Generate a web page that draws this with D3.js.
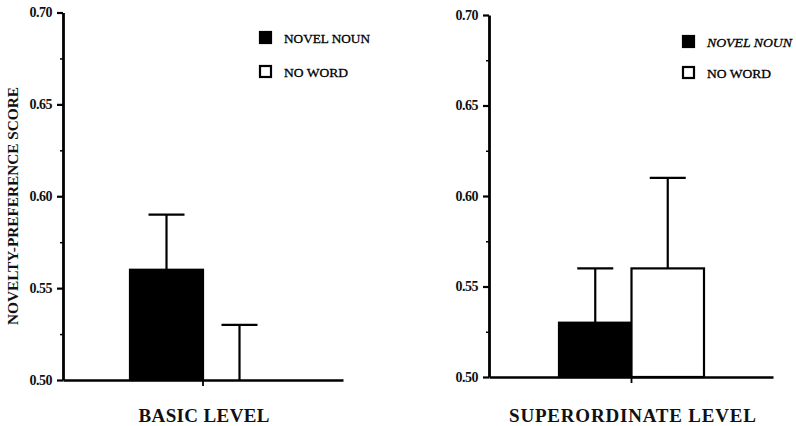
<!DOCTYPE html>
<html><head><meta charset="utf-8">
<script src="https://cdn.jsdelivr.net/npm/d3@7"></script>
<style>body{margin:0;background:#fff}svg{display:block}</style>
</head><body>
<svg id="chart" width="796" height="426"></svg>
<script>
// ---- data ----
const series = ["NOVEL NOUN", "NO WORD"];
const levels = ["BASIC LEVEL", "SUPERORDINATE LEVEL"];
const basicMeans = [0.56, 0.50];
const basicErrors = [0.03, 0.03];
const superMeans = [0.53, 0.56];
const superErrors = [0.03, 0.05];
const yTickValues = [0.50, 0.55, 0.60, 0.65, 0.70];
const yTickLabels = ["0.50", "0.55", "0.60", "0.65", "0.70"];
const yMinorTicks = [0.525, 0.575, 0.625, 0.675];
const yLabel = "NOVELTY-PREFERENCE SCORE";

const svg = d3.select("#chart");
const serif = "'Liberation Serif','Times New Roman',serif";

const panels = [
  {level: levels[0], means: basicMeans, errors: basicErrors, ax: 63, right: 343, top: 12.5, bottom: 380,
   barStart: 130, barEnd: 276, legX: 260, legY: [32, 66], legItalic: false, legLen: [86, 64], showYLabel: true, xLabLen: 131},
  {level: levels[1], means: superMeans, errors: superErrors, ax: 489, right: 773, top: 15, bottom: 377,
   barStart: 559, barEnd: 704, legX: 683, legY: [36, 67], legItalic: true, legLen: [85, 64], showYLabel: false, xLabLen: 247}
];

panels.forEach(p => {
  const g = svg.append("g");
  const y = d3.scaleLinear().domain([0.50, 0.70]).range([p.bottom, p.top]);
  const x = d3.scaleBand().domain(series).range([p.barStart, p.barEnd]).padding(0);

  // y axis
  const yAxis = d3.axisLeft(y).tickValues(yTickValues)
    .tickFormat((d, i) => yTickLabels[i]).tickSize(6).tickSizeOuter(0).tickPadding(5);
  const ya = g.append("g").attr("transform", `translate(${p.ax},0)`).call(yAxis);
  ya.select(".domain").attr("stroke", "#000").attr("stroke-width", 2.8);
  ya.selectAll(".tick line").attr("stroke", "#000").attr("stroke-width", 2.2);
  ya.selectAll(".tick text").attr("font-family", serif).attr("font-size", 14)
    .attr("font-weight", "bold").attr("letter-spacing", -0.5).attr("fill", "#111");
  // minor ticks
  const ym = d3.axisLeft(y).tickValues(yMinorTicks).tickSize(3).tickFormat("").tickSizeOuter(0);
  const yma = g.append("g").attr("transform", `translate(${p.ax},0)`).call(ym);
  yma.select(".domain").remove();
  yma.selectAll(".tick line").attr("stroke", "#000").attr("stroke-width", 1.5);

  // bars
  g.selectAll("rect.bar").data(series).enter().append("rect")
    .attr("class", "bar")
    .attr("x", d => x(d))
    .attr("width", x.bandwidth())
    .attr("y", (d, i) => y(p.means[i]))
    .attr("height", (d, i) => y(0.50) - y(p.means[i]))
    .attr("fill", (d, i) => i === 0 ? "#000" : "#fff")
    .attr("stroke", "#000").attr("stroke-width", 2.2);

  // error bars (upper only)
  const cap = 36;
  series.forEach((s, i) => {
    const cx = x(s) + x.bandwidth() / 2;
    const top = y(p.means[i] + p.errors[i]);
    g.append("line").attr("x1", cx).attr("x2", cx).attr("y1", y(p.means[i])).attr("y2", top)
      .attr("stroke", "#000").attr("stroke-width", 2.2);
    g.append("line").attr("x1", cx - cap / 2).attr("x2", cx + cap / 2).attr("y1", top).attr("y2", top)
      .attr("stroke", "#000").attr("stroke-width", 2.4);
  });

  // baseline (x axis)
  const xs = d3.scaleLinear().domain([0, 1]).range([p.ax, p.right]);
  const xAxis = d3.axisBottom(xs).tickValues([]).tickSizeOuter(0);
  const xa = g.append("g").attr("transform", `translate(0,${p.bottom})`).call(xAxis);
  xa.select(".domain").attr("stroke", "#000").attr("stroke-width", 2.6);
  // category tick
  g.append("line").attr("x1", x(series[1])).attr("x2", x(series[1]))
    .attr("y1", p.bottom).attr("y2", p.bottom + 6).attr("stroke", "#000").attr("stroke-width", 1.8);

  // x label
  g.append("text").attr("x", (p.barStart + p.barEnd) / 2 + 1).attr("y", 422)
    .attr("text-anchor", "middle").attr("font-family", serif).attr("font-weight", "bold")
    .attr("font-size", 19).attr("textLength", p.xLabLen).attr("lengthAdjust", "spacing")
    .attr("fill", "#111").text(p.level);

  // legend
  series.forEach((s, i) => {
    g.append("rect").attr("x", p.legX).attr("y", p.legY[i]).attr("width", 11).attr("height", 11)
      .attr("fill", i === 0 ? "#000" : "#fff").attr("stroke", "#000").attr("stroke-width", 2.2);
    g.append("text").attr("x", p.legX + 24).attr("y", p.legY[i] + 10.5)
      .attr("font-family", serif).attr("font-size", 13.5)
      .attr("font-style", p.legItalic && i === 0 ? "italic" : "normal")
      .attr("textLength", p.legLen[i]).attr("lengthAdjust", "spacingAndGlyphs")
      .attr("fill", "#000").attr("stroke", "#000").attr("stroke-width", 0.3).text(s);
  });

  if (p.showYLabel) {
    g.append("text").attr("transform", `translate(18,${(87 + 325) / 2}) rotate(-90)`)
      .attr("text-anchor", "middle").attr("font-family", serif).attr("font-weight", "bold")
      .attr("font-size", 14).attr("textLength", 238).attr("lengthAdjust", "spacingAndGlyphs")
      .attr("fill", "#111").text(yLabel);
  }
});
</script>
</body></html>
